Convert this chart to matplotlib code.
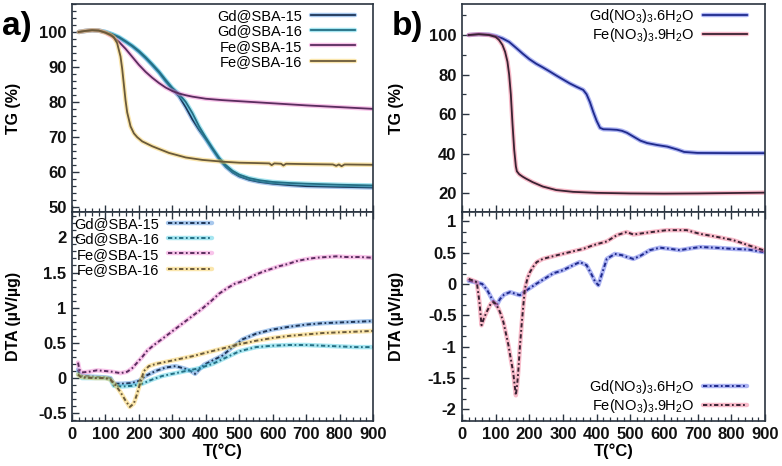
import matplotlib
matplotlib.use("Agg")
import matplotlib.pyplot as plt
from matplotlib.ticker import MultipleLocator, AutoMinorLocator
from matplotlib.legend_handler import HandlerTuple

plt.rcParams["font.family"] = ["Liberation Sans", "DejaVu Sans"]
plt.rcParams["mathtext.fontset"] = "custom"
plt.rcParams["mathtext.rm"] = "Liberation Sans"
plt.rcParams["mathtext.default"] = "regular"

# ---- panel a) TG ----
T_GD15 = [20, 40, 60, 80, 100, 120, 140, 160, 180, 200, 220, 240, 260, 280, 300, 320, 340, 360, 380,
          400, 420, 440, 460, 480, 500, 530, 560, 600, 650, 700, 800, 900]
TG_GD15 = [100.0, 100.3, 100.5, 100.4, 100.0, 99.3, 98.4, 97.2, 95.9, 94.3, 92.5, 90.5, 88.4, 85.9, 83.6,
           81.6, 78.5, 75.0, 72.0, 69.3, 66.4, 63.6, 61.4, 59.8, 58.7, 57.7, 57.1, 56.6, 56.2, 55.9, 55.7, 55.5]
TG_GD16 = [100.0, 100.3, 100.5, 100.4, 100.0, 99.4, 98.6, 97.4, 96.1, 94.6, 92.8, 90.8, 88.7, 86.3, 84.0,
           82.3, 80.0, 76.8, 73.0, 69.8, 66.8, 64.0, 61.9, 60.3, 59.2, 58.2, 57.6, 57.1, 56.8, 56.6, 56.3, 56.1]

T_FE15 = [20, 40, 60, 80, 100, 120, 140, 160, 180, 200, 220, 240, 260, 280, 300, 320, 340, 360, 380, 400,
          450, 500, 550, 600, 700, 800, 900]
TG_FE15 = [100.0, 100.3, 100.5, 100.4, 99.8, 98.7, 97.2, 95.2, 92.9, 90.6, 88.6, 86.9, 85.4, 84.1, 83.1,
           82.4, 81.9, 81.5, 81.2, 80.9, 80.5, 80.2, 79.9, 79.6, 79.0, 78.5, 78.0]

T_FE16 = [20, 40, 60, 80, 100, 115, 125, 135, 145, 150, 155, 160, 165, 175, 185, 195, 210, 240, 290, 340,
          390, 450, 500, 550, 590, 597, 605, 625, 632, 640, 700, 780, 790, 798, 806, 815, 900]
TG_FE16 = [100.0, 100.3, 100.5, 100.4, 99.8, 99.2, 98.5, 96.8, 93.0, 89.5, 85.0, 80.5, 77.0, 73.0, 71.0,
           69.9, 68.7, 67.3, 65.4, 64.1, 63.4, 62.9, 62.6, 62.5, 62.4, 61.9, 62.4, 62.3, 61.8, 62.3, 62.2,
           62.1, 61.7, 62.1, 61.6, 62.1, 62.0]

# ---- panel a) DTA ----
T_DFE15 = [18, 22, 30, 50, 75, 100, 120, 145, 165, 180, 195, 210, 225, 245, 265, 290, 315, 340, 365, 390,
           415, 440, 465, 490, 500, 520, 545, 570, 595, 620, 645, 670, 700, 730, 760, 790, 820, 860, 900]
DTA_FE15 = [0.22, 0.12, 0.08, 0.09, 0.11, 0.10, 0.09, 0.07, 0.09, 0.14, 0.22, 0.30, 0.39, 0.47, 0.54, 0.63,
            0.72, 0.81, 0.90, 0.99, 1.09, 1.20, 1.28, 1.35, 1.36, 1.40, 1.46, 1.51, 1.55, 1.59, 1.62, 1.66,
            1.69, 1.71, 1.72, 1.73, 1.72, 1.72, 1.71]

T_DFE16 = [18, 25, 40, 70, 100, 115, 130, 145, 160, 173, 185, 195, 205, 215, 230, 250, 280, 320, 360, 400,
           450, 500, 550, 600, 650, 700, 750, 800, 850, 900]
DTA_FE16 = [0.05, 0.02, 0.01, 0.0, 0.0, -0.02, -0.1, -0.2, -0.32, -0.41, -0.36, -0.22, -0.05, 0.1, 0.17,
            0.2, 0.23, 0.27, 0.31, 0.36, 0.42, 0.48, 0.53, 0.57, 0.6, 0.62, 0.64, 0.65, 0.66, 0.67]

T_DGD15 = [18, 22, 30, 60, 100, 115, 125, 150, 180, 200, 220, 250, 280, 310, 340, 355, 368, 380, 395, 420,
           450, 480, 510, 550, 600, 650, 700, 750, 800, 850, 900]
DTA_GD15 = [0.12, 0.06, 0.03, 0.02, 0.01, 0.0, -0.08, -0.08, -0.07, -0.04, 0.03, 0.1, 0.15, 0.17, 0.13,
            0.1, 0.06, 0.12, 0.19, 0.25, 0.32, 0.44, 0.55, 0.63, 0.69, 0.73, 0.76, 0.78, 0.79, 0.80, 0.81]

T_DGD16 = [18, 30, 60, 100, 115, 125, 150, 180, 210, 240, 270, 300, 340, 380, 420, 460, 500, 550, 600, 650,
           700, 750, 800, 850, 900]
DTA_GD16 = [0.05, 0.0, 0.0, 0.0, -0.02, -0.11, -0.12, -0.11, -0.08, -0.02, 0.03, 0.06, 0.1, 0.14, 0.2,
            0.29, 0.38, 0.44, 0.46, 0.47, 0.47, 0.46, 0.45, 0.44, 0.44]

# ---- panel b) TG ----
T_GDN = [20, 50, 80, 100, 120, 140, 160, 180, 200, 220, 240, 260, 280, 300, 320, 340, 360, 370, 380, 390,
         400, 410, 420, 440, 460, 475, 490, 510, 530, 550, 580, 610, 640, 660, 700, 800, 900]
TG_GDN = [100.0, 100.4, 100.2, 99.5, 98.3, 96.5, 93.6, 90.6, 87.8, 85.5, 83.6, 81.6, 79.5, 77.5, 75.5,
          73.8, 72.2, 70.0, 66.0, 61.0, 56.5, 53.0, 52.3, 52.2, 52.0, 51.5, 50.5, 48.5, 46.5, 45.3, 44.3,
          43.5, 42.0, 40.8, 40.3, 40.2, 40.2]

T_FEN = [20, 50, 80, 100, 110, 120, 128, 135, 140, 145, 150, 155, 160, 163, 170, 180, 190, 210, 240, 280,
         330, 400, 500, 600, 700, 800, 900]
TG_FEN = [100.0, 100.4, 100.0, 99.0, 97.5, 95.0, 91.5, 86.5, 80.0, 70.0, 55.0, 42.0, 33.5, 31.0, 29.5,
          28.3, 27.3, 25.5, 23.3, 21.5, 20.6, 20.1, 19.8, 19.7, 19.8, 20.0, 20.2]

# ---- panel b) DTA ----
T_DGDN = [20, 30, 45, 60, 75, 90, 103, 113, 125, 143, 160, 172, 192, 220, 250, 271, 300, 330, 350, 370,
          385, 395, 405, 415, 430, 454, 475, 490, 509, 530, 558, 588, 620, 647, 680, 707, 750, 806, 850, 895]
DTA_GDN = [0.05, 0.04, 0.02, 0.0, -0.1, -0.25, -0.34, -0.24, -0.17, -0.13, -0.16, -0.18, -0.1, 0.0, 0.1,
           0.17, 0.22, 0.3, 0.35, 0.3, 0.15, 0.04, -0.02, 0.15, 0.40, 0.48, 0.46, 0.43, 0.40, 0.45, 0.54,
           0.58, 0.56, 0.54, 0.57, 0.59, 0.58, 0.56, 0.55, 0.51]

T_DFEN = [20, 30, 44, 52, 58, 65, 73, 85, 93, 100, 108, 115, 123, 130, 138, 145, 152, 156, 160, 164, 167,
          172, 177, 182, 187, 195, 202, 212, 222, 240, 261, 290, 321, 360, 390, 430, 460, 489, 509, 550,
          608, 667, 707, 750, 806, 850, 895]
DTA_FEN = [0.08, 0.06, 0.03, -0.3, -0.66, -0.55, -0.45, -0.32, -0.29, -0.32, -0.39, -0.48, -0.61, -0.78,
           -0.98, -1.2, -1.41, -1.6, -1.78, -1.6, -1.41, -1.0, -0.66, -0.35, -0.07, 0.1, 0.19, 0.28, 0.35,
           0.4, 0.43, 0.47, 0.51, 0.56, 0.62, 0.68, 0.78, 0.83, 0.79, 0.82, 0.86, 0.86, 0.80, 0.76, 0.70,
           0.62, 0.54]

# core colour, halo colour
STYLE = {
    "gd15": ("#1d3558", "#3f86d8"),
    "gd16": ("#246f84", "#3cc8e0"),
    "fe15": ("#5a2c5e", "#f07ed2"),
    "fe16": ("#6a5a3a", "#f6c84a"),
    "gdn": ("#1f2a8c", "#4a5ae6"),
    "fen": ("#3a2232", "#f06a8a"),
}
SPINE = "#2a3440"
DASH = (0, (2.2, 1.3, 0.9, 1.3))


def trazar(ax, x, y, key, label, dta=False):
    core, halo = STYLE[key]
    h1, = ax.plot(x, y, color=halo, lw=3.2, alpha=0.45, solid_capstyle="round")
    if dta:
        h2, = ax.plot(x, y, color=core, lw=1.4, linestyle=DASH)
    else:
        h2, = ax.plot(x, y, color=core, lw=1.3)
    return (h1, h2), label


def estilo(ax, bottom_labels, top_ticks, bottom_ticks):
    for s in ax.spines.values():
        s.set_color(SPINE)
        s.set_linewidth(1.2)
    ax.set_xlim(0, 900)
    ax.xaxis.set_major_locator(MultipleLocator(100))
    ax.xaxis.set_minor_locator(AutoMinorLocator(5))
    ax.tick_params(axis="both", which="both", direction="in", colors=SPINE,
                   labelcolor="#111111", labelsize=12, pad=4)
    ax.tick_params(axis="x", which="both", top=top_ticks, bottom=bottom_ticks,
                   labelbottom=bottom_labels)
    ax.tick_params(axis="y", which="both", right=False)
    ax.tick_params(which="major", length=5, width=1.0)
    ax.tick_params(which="minor", length=3, width=0.9)
    for lab in ax.get_xticklabels() + ax.get_yticklabels():
        lab.set_fontweight("bold")


def leyenda(ax, handles, labels, loc, anchor, spacing):
    ax.legend(handles, labels, loc=loc, bbox_to_anchor=anchor, frameon=False, markerfirst=False,
              fontsize=10.5, handlelength=3.0, handletextpad=0.6, labelspacing=spacing,
              borderpad=0, borderaxespad=0, handler_map={tuple: HandlerTuple(ndivide=1, pad=0)})


fig = plt.figure(figsize=(7.82, 4.66), dpi=100)
W, H = 782.0, 466.0
ax_a1 = fig.add_axes([72 / W, 1 - 212 / H, 301 / W, 208 / H])
ax_a2 = fig.add_axes([72 / W, 1 - 421 / H, 301 / W, 209 / H])
ax_b1 = fig.add_axes([462 / W, 1 - 212 / H, 303 / W, 208 / H])
ax_b2 = fig.add_axes([462 / W, 1 - 421 / H, 303 / W, 209 / H])

# a) TG
hs = [trazar(ax_a1, T_GD15, TG_GD15, "gd15", "Gd@SBA-15"),
      trazar(ax_a1, T_GD15, TG_GD16, "gd16", "Gd@SBA-16"),
      trazar(ax_a1, T_FE15, TG_FE15, "fe15", "Fe@SBA-15"),
      trazar(ax_a1, T_FE16, TG_FE16, "fe16", "Fe@SBA-16")]
ax_a1.set_ylim(48.5, 108)
ax_a1.yaxis.set_major_locator(MultipleLocator(10))
ax_a1.yaxis.set_minor_locator(AutoMinorLocator(5))
ax_a1.set_ylabel("TG (%)", fontsize=11.5, fontweight="bold")
estilo(ax_a1, False, False, True)
leyenda(ax_a1, [h for h, _ in hs], [l for _, l in hs], "upper right", (0.94, 0.975), 0.08)

# a) DTA
hs = [trazar(ax_a2, T_DGD15, DTA_GD15, "gd15", "Gd@SBA-15", True),
      trazar(ax_a2, T_DGD16, DTA_GD16, "gd16", "Gd@SBA-16", True),
      trazar(ax_a2, T_DFE15, DTA_FE15, "fe15", "Fe@SBA-15", True),
      trazar(ax_a2, T_DFE16, DTA_FE16, "fe16", "Fe@SBA-16", True)]
ax_a2.set_ylim(-0.61, 2.36)
ax_a2.yaxis.set_major_locator(MultipleLocator(0.5))
ax_a2.yaxis.set_minor_locator(AutoMinorLocator(5))
ax_a2.yaxis.set_major_formatter(plt.FuncFormatter(lambda v, p: f"{v:g}"))
ax_a2.set_ylabel("DTA (µV/µg)", fontsize=11.5, fontweight="bold")
ax_a2.set_xlabel("T(°C)", fontsize=12, fontweight="bold", labelpad=1)
estilo(ax_a2, True, True, True)
leyenda(ax_a2, [h for h, _ in hs], [l for _, l in hs], "upper right", (0.465, 0.975), 0.08)

# b) TG
hs = [trazar(ax_b1, T_GDN, TG_GDN, "gdn", "Gd(NO$_3$)$_3$.6H$_2$O"),
      trazar(ax_b1, T_FEN, TG_FEN, "fen", "Fe(NO$_3$)$_3$.9H$_2$O")]
ax_b1.set_ylim(10.4, 115.7)
ax_b1.yaxis.set_major_locator(MultipleLocator(20))
ax_b1.yaxis.set_minor_locator(AutoMinorLocator(2))
ax_b1.set_ylabel("TG (%)", fontsize=11.5, fontweight="bold")
estilo(ax_b1, False, False, True)
leyenda(ax_b1, [h for h, _ in hs], [l for _, l in hs], "upper right", (0.94, 0.985), 0.05)

# b) DTA
hs = [trazar(ax_b2, T_DGDN, DTA_GDN, "gdn", "Gd(NO$_3$)$_3$.6H$_2$O", True),
      trazar(ax_b2, T_DFEN, DTA_FEN, "fen", "Fe(NO$_3$)$_3$.9H$_2$O", True)]
ax_b2.set_ylim(-2.19, 1.15)
ax_b2.yaxis.set_major_locator(MultipleLocator(0.5))
ax_b2.yaxis.set_minor_locator(AutoMinorLocator(3))
ax_b2.yaxis.set_major_formatter(plt.FuncFormatter(lambda v, p: f"{v:g}"))
ax_b2.set_ylabel("DTA (µV/µg)", fontsize=11.5, fontweight="bold")
ax_b2.set_xlabel("T(°C)", fontsize=12, fontweight="bold", labelpad=1)
estilo(ax_b2, True, True, True)
leyenda(ax_b2, [h for h, _ in hs], [l for _, l in hs], "lower right", (0.94, 0.03), 0.05)

for ax in (ax_a1, ax_a2):
    ax.yaxis.set_label_coords(-0.17, 0.5)
for ax in (ax_b1, ax_b2):
    ax.yaxis.set_label_coords(-0.19, 0.5)

fig.text(2 / W, 1 - 26 / H, "a)", fontsize=24, fontweight="bold", va="center", ha="left")
fig.text(392 / W, 1 - 26 / H, "b)", fontsize=24, fontweight="bold", va="center", ha="left")

fig.savefig("out.png", dpi=100)
